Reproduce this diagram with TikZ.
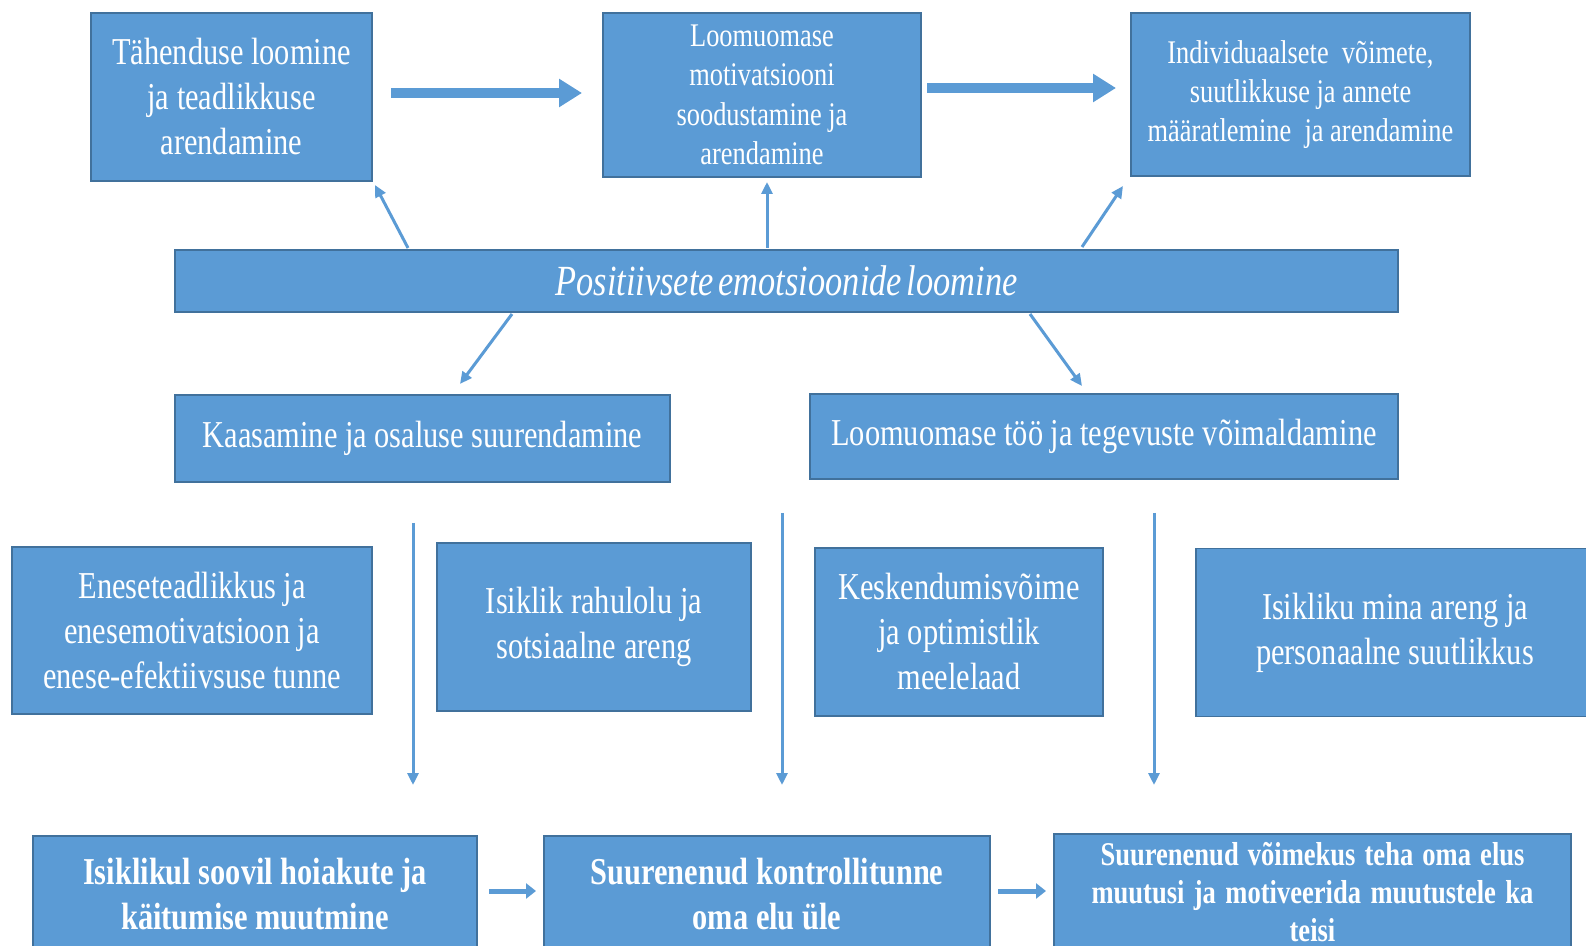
\documentclass[tikz,border=0pt]{standalone}
\usepackage{fontspec}
\setmainfont{Liberation Serif}[FakeStretch=0.8]
\usetikzlibrary{arrows.meta}
\definecolor{boxblue}{HTML}{5B9BD5}
\definecolor{boxedge}{HTML}{41719C}
\begin{document}
\begin{tikzpicture}[x=0.5pt,y=-0.5pt,
  box/.style={fill=boxblue, draw=boxedge, line width=0.6pt, text=white, align=center, inner sep=0pt, outer sep=0pt},
  fbig/.style={font=\fontsize{19}{22.5}\selectfont},
  fmid/.style={font=\fontsize{16.5}{19.7}\selectfont},
  fbold/.style={font=\fontsize{19}{22.3}\selectfont\bfseries},
  fsmallbold/.style={font=\fontsize{16.6}{19.2}\selectfont\bfseries},
  fital/.style={font=\fontsize{21.5}{24}\selectfont\itshape},
  thinarr/.style={draw=boxblue, line width=1.5pt, -{Triangle[length=6pt,width=5.5pt]}},
  thickarr/.style={draw=boxblue, line width=5pt, -{Triangle[length=11.5pt,width=13.5pt]}},
  medarr/.style={draw=boxblue, line width=2.5pt, -{Triangle[length=5pt,width=7.5pt]}},
]
\useasboundingbox (0,0) rectangle (1586,946);
\clip (0,0) rectangle (1586,946);
\fill[white] (0,0) rectangle (1586,946);

% top row
\node[box, fbig, minimum width=140.5pt, minimum height=84pt] (b1) at (231.5,97)
  {Tähenduse loomine\\ja teadlikkuse\\arendamine};
\node[box, fmid, minimum width=159pt, minimum height=82pt] (b2) at (762,95)
  {Loomuomase\\motivatsiooni\\soodustamine ja\\arendamine};
\node[box, fmid, minimum width=169.5pt, minimum height=81.5pt] (b3) at (1300.5,94.5)
  {Individuaalsete\ \ võimete,\\suutlikkuse ja annete\\määratlemine\ \ ja arendamine};

% central bar
\node[box, fital, minimum width=611.5pt, minimum height=31pt] (bar) at (786.5,281)
  {Positiivsete\hspace{-2pt} emotsioonide\hspace{-2pt} loomine};

% second row
\node[box, fbig, minimum width=247.5pt, minimum height=43.5pt] (kaas) at (422.5,438.5)
  {Kaasamine ja osaluse suurendamine};
\node[box, fbig, minimum width=294pt, minimum height=42.5pt] (too) at (1104,436.5)
  {Loomuomase töö ja tegevuste võimaldamine};

% third row
\node[box, fbig, minimum width=180pt, minimum height=83.5pt] (ene) at (192,630.5)
  {Eneseteadlikkus ja\\enesemotivatsioon ja\\enese-efektiivsuse tunne};
\node[box, fbig, minimum width=157pt, minimum height=84pt] (isik) at (594,627)
  {Isiklik rahulolu ja\\sotsiaalne areng};
\node[box, fbig, minimum width=144pt, minimum height=84pt] (kesk) at (959,632)
  {Keskendumisvõime\\ja optimistlik\\meelelaad};
\node[box, fbig, minimum width=199pt, minimum height=84pt] (mina) at (1395,632.5)
  {Isikliku mina areng ja\\personaalne suutlikkus};

% bottom row
\node[box, fbold, minimum width=222pt, minimum height=58pt] (bot1) at (255,894)
  {Isiklikul soovil hoiakute ja\\käitumise muutmine};
\node[box, fbold, minimum width=223pt, minimum height=58pt] (bot2) at (767,894)
  {Suurenenud kontrollitunne\\oma elu üle};
\node[box, fsmallbold, minimum width=258.5pt, minimum height=58pt] (bot3) at (1312.5,892)
  {\makebox[212pt][s]{Suurenenud võimekus teha oma elus}\\
   \makebox[221pt][s]{muutusi ja motiveerida muutustele ka}\\teisi};

% free ends of connectors
\coordinate (d1s) at (408,248);  \coordinate (d1e) at (375,185);
\coordinate (d2s) at (767,248);  \coordinate (d2e) at (767,182);
\coordinate (d3s) at (1082,247); \coordinate (d3e) at (1123,186);
\coordinate (d4s) at (512,314);  \coordinate (d4e) at (460,384);
\coordinate (d5s) at (1030,314); \coordinate (d5e) at (1082,386);
\coordinate (v1s) at (413,523);  \coordinate (v1e) at (413,785);
\coordinate (v2s) at (782,513);  \coordinate (v2e) at (782,785);
\coordinate (v3s) at (1154,513); \coordinate (v3e) at (1154,785);

% thick top arrows
\draw[thickarr, shorten <=9.5pt, shorten >=10.5pt]
  ([yshift=2pt]b1.east) -- ([yshift=2pt]b1.east -| b2.west);
\draw[thickarr, shorten <=3pt, shorten >=7.5pt]
  ([yshift=3.5pt]b2.east) -- ([yshift=3.5pt]b2.east -| b3.west);

% arrows from the central bar
\draw[thinarr] (d1s) -- (d1e);
\draw[thinarr] (d2s) -- (d2e);
\draw[thinarr] (d3s) -- (d3e);
\draw[thinarr] (d4s) -- (d4e);
\draw[thinarr] (d5s) -- (d5e);

% long vertical arrows
\draw[thinarr] (v1s) -- (v1e);
\draw[thinarr] (v2s) -- (v2e);
\draw[thinarr] (v3s) -- (v3e);

% bottom arrows
\draw[medarr, shorten <=6pt, shorten >=4pt]
  ([yshift=1.5pt]bot1.east) -- ([yshift=1.5pt]bot1.east -| bot2.west);
\draw[medarr, shorten <=4pt, shorten >=4pt]
  ([yshift=1.5pt]bot2.east) -- ([yshift=1.5pt]bot2.east -| bot3.west);
\end{tikzpicture}
\end{document}
